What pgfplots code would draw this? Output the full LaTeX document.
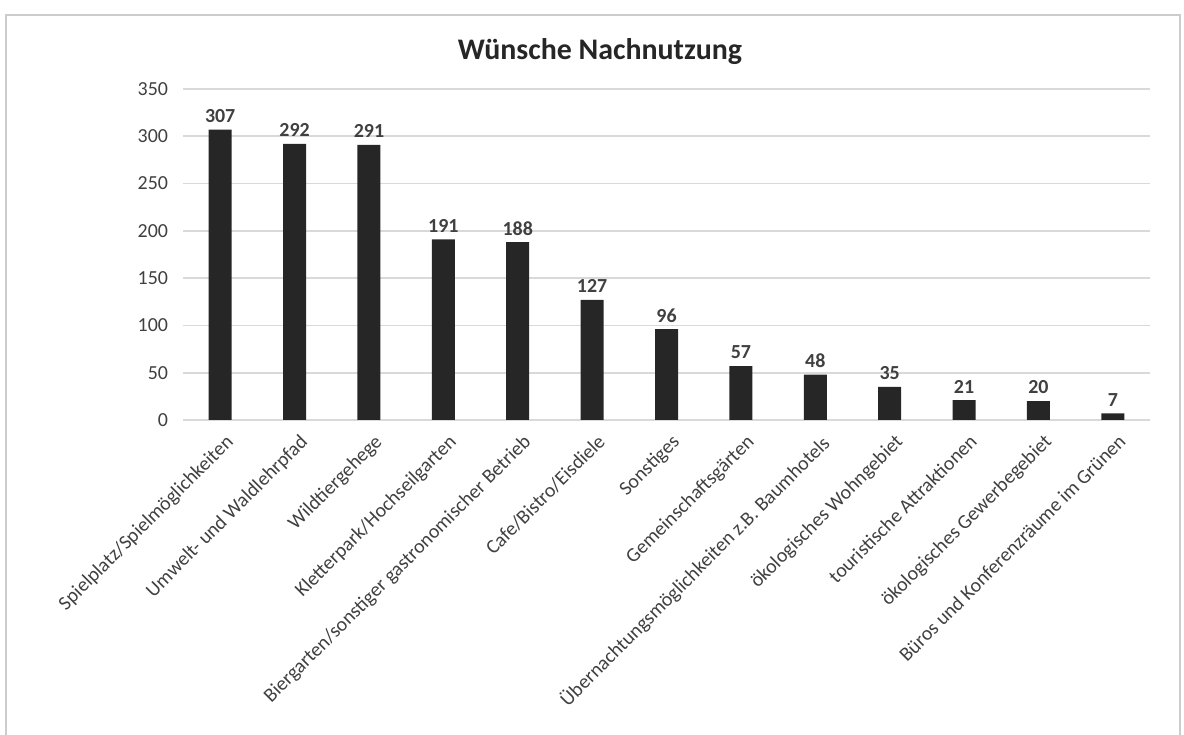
\documentclass[border=0pt]{standalone}
\usepackage{fontspec}
\setmainfont{Carlito}
\usepackage{pgfplots}
\pgfplotsset{compat=1.18}
\definecolor{barfill}{HTML}{262626}
\definecolor{gridc}{HTML}{D9D9D9}
\definecolor{labc}{HTML}{404040}

\begin{document}
\begin{tikzpicture}
\useasboundingbox (0bp,0bp) rectangle (592bp,367.5bp);
\draw[gray!40, line width=1.3bp] (3bp,0bp) -- (3bp,360bp) -- (590bp,360bp) -- (590bp,0bp);
\begin{axis}[
    at={(91.5bp,157.5bp)}, anchor=south west,
    scale only axis,
    width=483.5bp, height=165.5bp,
    ybar, bar width=11.5bp,
    xmin=-0.5, xmax=12.5,
    ymin=0, ymax=350,
    ytick={0,50,...,350},
    xtick={0,...,12},
    xticklabels={Spielplatz/Spielmöglichkeiten, Umwelt- und Waldlehrpfad, Wildtiergehege,
        Kletterpark/Hochseilgarten, Biergarten/sonstiger gastronomischer Betrieb,
        Cafe/Bistro/Eisdiele, Sonstiges, Gemeinschaftsgärten,
        Übernachtungsmöglichkeiten z.B. Baumhotels, ökologisches Wohngebiet,
        touristische Attraktionen, ökologisches Gewerbegebiet,
        Büros und Konferenzräume im Grünen},
    /pgf/number format/assume math mode=true,
    ticklabel style={font=\fontsize{10}{12}\selectfont, text=labc},
    xticklabel style={rotate=45, anchor=north east, inner sep=1bp, yshift=-5bp, xshift=-2bp},
    yticklabel style={xshift=-4bp},
    major tick length=0pt,
    ymajorgrids, grid style={gridc, line width=0.8bp},
    axis lines*=left,
    y axis line style={draw=none},
    x axis line style={gridc, line width=0.8bp, -},
    nodes near coords,
    every node near coord/.append style={font=\bfseries\fontsize{10}{12}\selectfont, text=labc},
]
\addplot[fill=barfill, draw=none] coordinates {
    (0,307) (1,292) (2,291) (3,191) (4,188) (5,127) (6,96)
    (7,57) (8,48) (9,35) (10,21) (11,20) (12,7)
};
\end{axis}
\node[font=\bfseries\fontsize{15}{18}\selectfont, text=black!85] at (300bp,341.5bp) {Wünsche Nachnutzung};
\end{tikzpicture}
\end{document}
